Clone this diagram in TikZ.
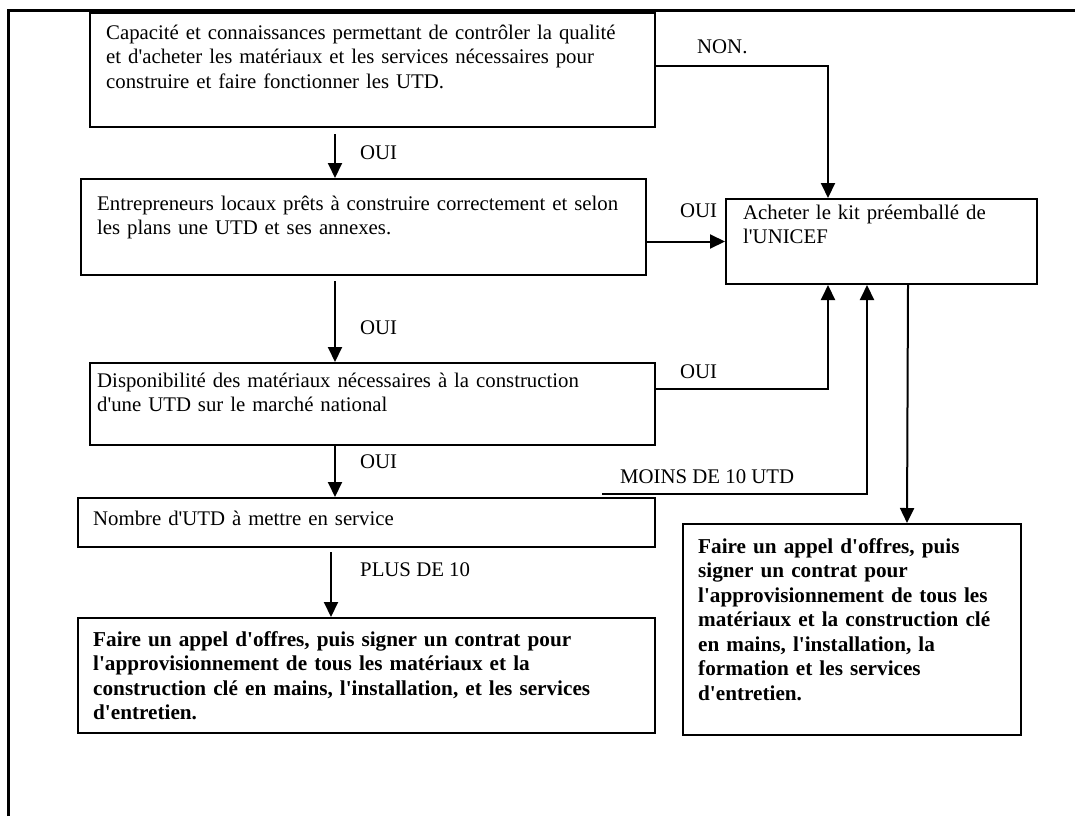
\documentclass[tikz,border=0pt]{standalone}
\usepackage{fontspec}
\setmainfont{Liberation Serif}[Ligatures=TeXOff]
\usetikzlibrary{arrows.meta,calc}
\begin{document}
\begin{tikzpicture}[x=1pt,y=-1pt,
  box/.style={draw, line width=2pt, anchor=north west, inner sep=0pt},
  txt/.style={anchor=north west, inner sep=0pt, align=left, text width=600pt, font=\fontsize{20.8}{24.5}\selectfont},
  btxt/.style={txt, font=\fontsize{21.2}{24.5}\selectfont\bfseries},
  lbl/.style={anchor=west, inner sep=0pt, font=\fontsize{20.8}{24.5}\selectfont},
  arr/.style={line width=2pt, -{Triangle[length=15pt,width=14pt]}},
  conn/.style={line width=2pt}]
\useasboundingbox (0,0) rectangle (1075,816);
% outer frame
\draw[line width=3pt] (8,816) -- (8,11) -- (1075,11);
% boxes
\node[box, minimum width=565pt, minimum height=114pt] (b1) at (89,12) {};
\node[box, minimum width=565pt, minimum height=96pt] (b2) at (80,178) {};
\node[box, minimum width=565pt, minimum height=82pt] (b3) at (89,362) {};
\node[box, minimum width=577pt, minimum height=49pt] (b4) at (77,497) {};
\node[box, minimum width=577pt, minimum height=115pt] (b5) at (77,617) {};
\node[box, minimum width=311pt, minimum height=85pt] (b6) at (725,198) {};
\node[box, minimum width=338pt, minimum height=211pt] (b7) at (682,523) {};
% texts
\node[txt] (t1) at (106,22) {\strut Capacité et connaissances permettant de contrôler la qualité\\ et d'acheter les matériaux et les services nécessaires pour\\ construire et faire fonctionner les UTD.};
\node[txt] (t2) at (97,193) {\strut Entrepreneurs locaux prêts à construire correctement et selon\\ les plans une UTD et ses annexes.};
\node[txt] (t3) at (97,370) {\strut Disponibilité des matériaux nécessaires à la construction\\ d'une UTD sur le marché national};
\node[txt] (t4) at (93,508) {\strut Nombre d'UTD à mettre en service};
\node[btxt] (t5) at (93,629) {\strut Faire un appel d'offres, puis signer un contrat pour\\ l'approvisionnement de tous les matériaux et la\\ construction clé en mains, l'installation, et les services\\ d'entretien.};
\node[txt] (t6) at (743,202) {\strut Acheter le kit préemballé de\\ l'UNICEF};
\node[btxt] (t7) at (698,536) {\strut Faire un appel d'offres, puis\\ signer un contrat pour\\ l'approvisionnement de tous les\\ matériaux et la construction clé\\ en mains, l'installation, la\\ formation et les services\\ d'entretien.};
% labels
\node[lbl] (lnon) at (697,47) {NON.};
\node[lbl] (loui1) at (360,153) {OUI};
\node[lbl] (loui2) at (680,211) {OUI};
\node[lbl] (loui3) at (360,328) {OUI};
\node[lbl] (loui4) at (680,372) {OUI};
\node[lbl] (loui5) at (360,462) {OUI};
\node[lbl] (lmoins) at (620,477) {MOINS DE 10 UTD};
\node[lbl] (lplus) at (360,570) {PLUS DE 10};
% connectors
\draw[arr] ([shift={(246,6)}]b1.south west) -- ([shift={(255,0)}]b2.north west);
\draw[arr] ([shift={(255,5)}]b2.south west) -- ([shift={(246,0)}]b3.north west);
\draw[arr] ([shift={(246,0)}]b3.south west) -- ([shift={(258,0)}]b4.north west);
\draw[arr] ([shift={(254,4)}]b4.south west) -- ([shift={(254,0)}]b5.north west);
\draw[arr] ([shift={(0,54)}]b1.north east) -| ([shift={(103,0)}]b6.north west);
\draw[arr] (b2.east |- b6.west) -- (b6.west);
\draw[arr] ([shift={(0,27)}]b3.north east) -| ([shift={(103,0)}]b6.south west);
\draw[arr] ([shift={(-54,-3)}]b4.north east) -| ([shift={(142,0)}]b6.south west);
\draw[arr] ([shift={(183,0)}]b6.south west) -- ([shift={(225,0)}]b7.north west);
\end{tikzpicture}
\end{document}
